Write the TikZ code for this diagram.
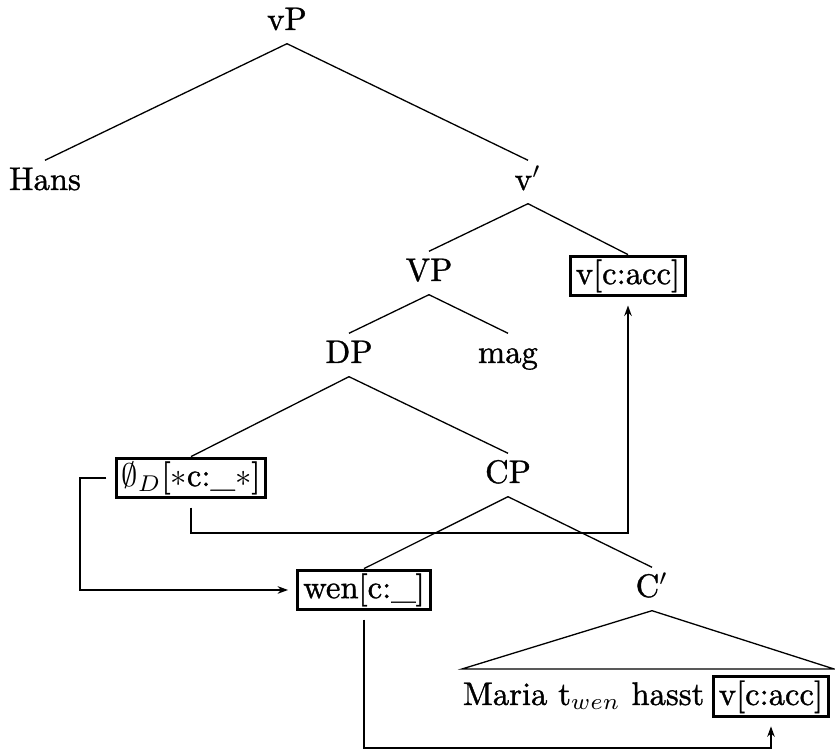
\documentclass[tikz,border=0pt]{standalone}
\usepackage{fontspec}
\setmainfont{Latin Modern Roman}[RawFeature={embolden=1.1}]
\usetikzlibrary{arrows.meta}
\begin{document}
\begin{tikzpicture}[x=0.3064pt,y=-0.3064pt,
  lbl/.style={font=\fontsize{10}{12}\selectfont, inner sep=0pt, text height=8.9pt, text depth=4pt, anchor=base},
  boxed/.style={font=\fontsize{10}{12}\selectfont, draw, line width=0.9pt, inner xsep=1.7pt, inner ysep=1.1pt},
  tree/.style={line width=0.4pt},
  conn/.style={line width=0.65pt, -{Stealth[length=3.2pt,width=2.3pt]}, shorten <=2.5pt, shorten >=2.5pt}]
\useasboundingbox (0,0) rectangle (835,753);
\node[lbl] (vP) at (287,30) {vP};
\node[lbl] (Hans) at (45,190) {Hans};
\node[lbl] (vbar) at (528,190) {v$'$};
\node[lbl] (VP) at (429,281) {VP};
\node[boxed] (box1) at (628,276) {v[c:acc]};
\node[lbl] (DP) at (349,363) {DP};
\node[lbl] (mag) at (508,363) {mag};
\node[boxed] (phi) at (191,478) {$\emptyset_D$[$*$c:\_$*$]};
\node[lbl] (CP) at (508,483) {CP};
\node[boxed] (wen) at (364,590) {wen[c:\_]};
\node[lbl] (Cbar) at (652,597) {C$'$};
\coordinate (triL) at (462,669);
\coordinate (triR) at (834,669);
\node[lbl, anchor=base east] (roof) at (705,705) {Maria t$_{wen}$ hasst};
\node[boxed, anchor=base] (box2) at (771,705) {v[c:acc]};
\draw[tree] (vP.south) -- (Hans.north);
\draw[tree] (vP.south) -- (vbar.north);
\draw[tree] (vbar.south) -- (VP.north);
\draw[tree] (vbar.south) -- (box1.north);
\draw[tree] (VP.south) -- (DP.north);
\draw[tree] (VP.south) -- (mag.north);
\draw[tree] (DP.south) -- (phi.north);
\draw[tree] (DP.south) -- (CP.north);
\draw[tree] (CP.south) -- (wen.north);
\draw[tree] (CP.south) -- (Cbar.north);
\draw[tree] (Cbar.south) -- (triL) -- (triR) -- cycle;
\draw[conn] (phi.west) -- ++(-35,0) |- (wen.west);
\draw[conn] (phi.south) -- ++(0,34) -| (box1.south);
\draw[conn] (wen.south) -- ++(0,137) -| (box2.south);
\end{tikzpicture}
\end{document}
